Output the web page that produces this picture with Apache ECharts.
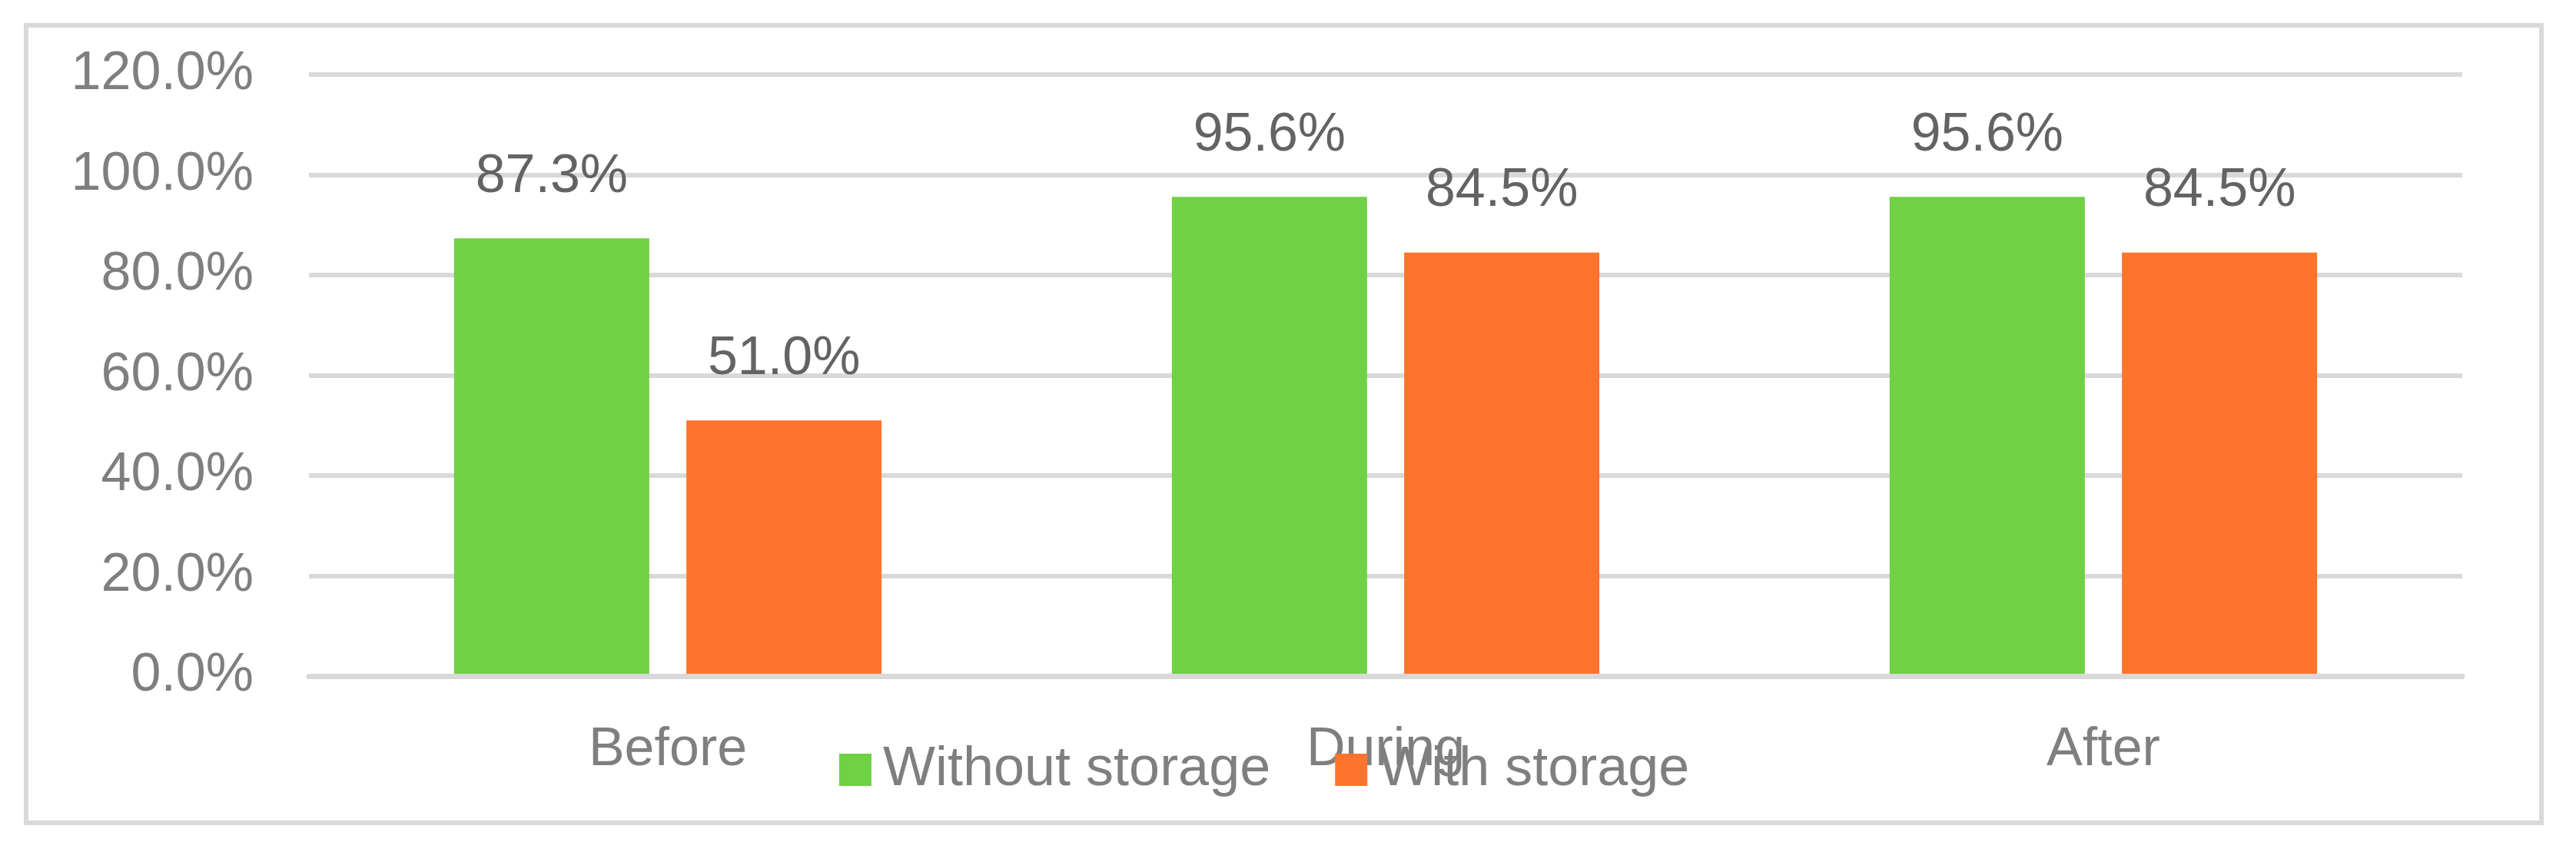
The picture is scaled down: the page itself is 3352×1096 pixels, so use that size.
<!DOCTYPE html>
<html>
<head>
<meta charset="utf-8">
<script src="https://cdn.jsdelivr.net/npm/echarts@6/dist/echarts.min.js"></script>
<style>
  html, body { margin: 0; padding: 0; background: #fff; }
  #chart { width: 3352px; height: 1096px; }
</style>
</head>
<body>
<div id="chart"></div>
<script>
const categories = ['Before', 'During', 'After'];
const withoutStorage = [87.3, 95.6, 95.6];
const withStorage = [51.0, 84.5, 84.5];
const seriesNames = ['Without storage', 'With storage'];

const font = '"Liberation Sans", Arial, sans-serif';
const axisGray = '#7f7f7f';

const myChart = echarts.init(document.getElementById('chart'));

const labelStyle = {
  show: true,
  position: 'top',
  distance: 45,
  fontSize: 70,
  fontFamily: font,
  color: '#636363',
  formatter: p => p.value.toFixed(1) + '%'
};

const option = {
  animation: false,
  backgroundColor: '#fff',
  graphic: [{
    type: 'rect',
    shape: { x: 34, y: 33, width: 3273, height: 1038 },
    style: { fill: 'none', stroke: '#d9d9d9', lineWidth: 6 },
    silent: true
  }],
  legend: {
    data: seriesNames,
    left: 1087,
    top: 961,
    itemWidth: 42,
    itemHeight: 42,
    itemGap: 84,
    icon: 'rect',
    textStyle: { fontSize: 72, fontFamily: font, color: axisGray, padding: [0, 0, 0, 10] }
  },
  grid: { left: 402, right: 148, top: 97, bottom: 216 },
  xAxis: {
    type: 'category',
    data: categories,
    z: 3,
    axisLine: { show: true, lineStyle: { color: '#d9d9d9', width: 7 } },
    axisTick: { show: false },
    axisLabel: { margin: 62, fontSize: 70, fontFamily: font, color: axisGray }
  },
  yAxis: {
    type: 'value',
    min: 0,
    max: 120,
    interval: 20,
    axisLine: { show: false },
    axisTick: { show: false },
    splitLine: { lineStyle: { color: '#d9d9d9', width: 6 } },
    axisLabel: {
      margin: 72,
      fontSize: 70,
      fontFamily: font,
      color: axisGray,
      padding: [8, 0, 0, 0],
      formatter: v => v.toFixed(1) + '%'
    }
  },
  series: [
    {
      name: seriesNames[0],
      type: 'bar',
      data: withoutStorage,
      barWidth: 254,
      barGap: '19%',
      itemStyle: { color: '#6fd144' },
      label: labelStyle
    },
    {
      name: seriesNames[1],
      type: 'bar',
      data: withStorage,
      barWidth: 254,
      barGap: '19%',
      itemStyle: { color: '#fe742c' },
      label: labelStyle
    }
  ]
};

myChart.setOption(option);
</script>
</body>
</html>
